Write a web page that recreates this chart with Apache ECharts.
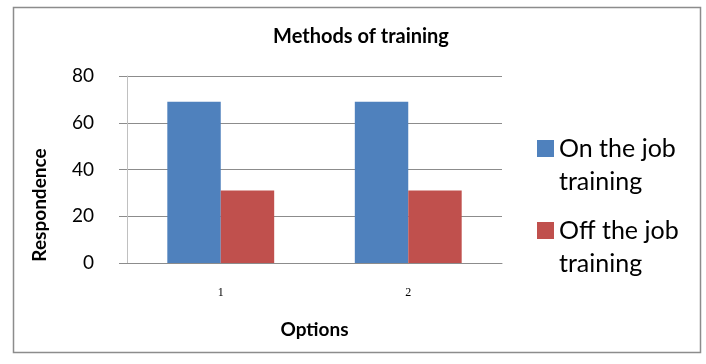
<!DOCTYPE html>
<html>
<head>
<meta charset="utf-8">
<script src="https://cdn.jsdelivr.net/npm/echarts@6/dist/echarts.min.js"></script>
<style>
  html, body { margin: 0; padding: 0; background: #fff; }
  #chart { width: 706px; height: 364px; }
</style>
</head>
<body>
<div id="chart"></div>
<script>
const categories = ['1', '2']
const onTheJob = [69, 69]
const offTheJob = [31, 31]
const seriesNames = ['On the job\ntraining', 'Off the job\ntraining']
const yTicks = { min: 0, max: 80, interval: 20 }

const chart = echarts.init(document.getElementById('chart'))

const option = {
  backgroundColor: '#fff',
  animation: false,
  title: {
    text: 'Methods of training',
    left: 356,
    top: 22,
    textAlign: 'center',
    textStyle: { fontFamily: 'Lato', fontWeight: 'bold', fontSize: 20, color: '#000' },
  },
  grid: { left: 127, right: 204, top: 76, bottom: 101 },
  legend: {
    orient: 'vertical',
    left: 532,
    top: 94,
    padding: 5,
    itemWidth: 17,
    itemHeight: 17,
    itemGap: -17,
    icon: 'rect',
    // blank first line keeps the square level with the first line of text
    formatter: (name) => '\n' + name,
    textStyle: {
      fontFamily: 'Lato',
      fontSize: 25,
      lineHeight: 33,
      color: '#000',
    },
    data: seriesNames,
  },
  xAxis: {
    type: 'category',
    data: categories,
    name: 'Options',
    nameLocation: 'middle',
    nameGap: 57,
    nameTextStyle: { fontFamily: 'Lato', fontWeight: 'bold', fontSize: 19, color: '#000' },
    axisLine: { lineStyle: { color: '#8c8c8c', width: 1 } },
    axisTick: { show: false },
    axisLabel: { fontFamily: 'Liberation Serif', fontSize: 12, color: '#000', margin: 24 },
  },
  yAxis: {
    type: 'value',
    min: yTicks.min,
    max: yTicks.max,
    interval: yTicks.interval,
    axisLine: { show: true, lineStyle: { color: '#c0c0c0', width: 1 } },
    axisTick: { show: true, length: 8, lineStyle: { color: '#8c8c8c' } },
    splitLine: { lineStyle: { color: '#8c8c8c', width: 1 } },
    axisLabel: { fontFamily: 'Lato', fontSize: 19, color: '#000', margin: 33 },
  },
  graphic: [
    {
      type: 'rect',
      shape: { x: 13.5, y: 7.5, width: 687, height: 345 },
      style: { fill: 'none', stroke: '#8c8c8c', lineWidth: 1.5 },
      z: -1,
    },
    {
      type: 'text',
      x: 40,
      y: 205,
      rotation: Math.PI / 2,
      style: {
        text: 'Respondence',
        fontFamily: 'Lato',
        fontWeight: 'bold',
        fontSize: 19,
        fill: '#000',
        align: 'center',
        verticalAlign: 'middle',
      },
    },
  ],
  series: [
    {
      name: seriesNames[0],
      type: 'bar',
      data: onTheJob,
      barGap: '0%',
      barCategoryGap: '43%',
      itemStyle: { color: '#4f81bd' },
    },
    {
      name: seriesNames[1],
      type: 'bar',
      data: offTheJob,
      itemStyle: { color: '#c0504d' },
    },
  ],
}

chart.setOption(option)
</script>
</body>
</html>
